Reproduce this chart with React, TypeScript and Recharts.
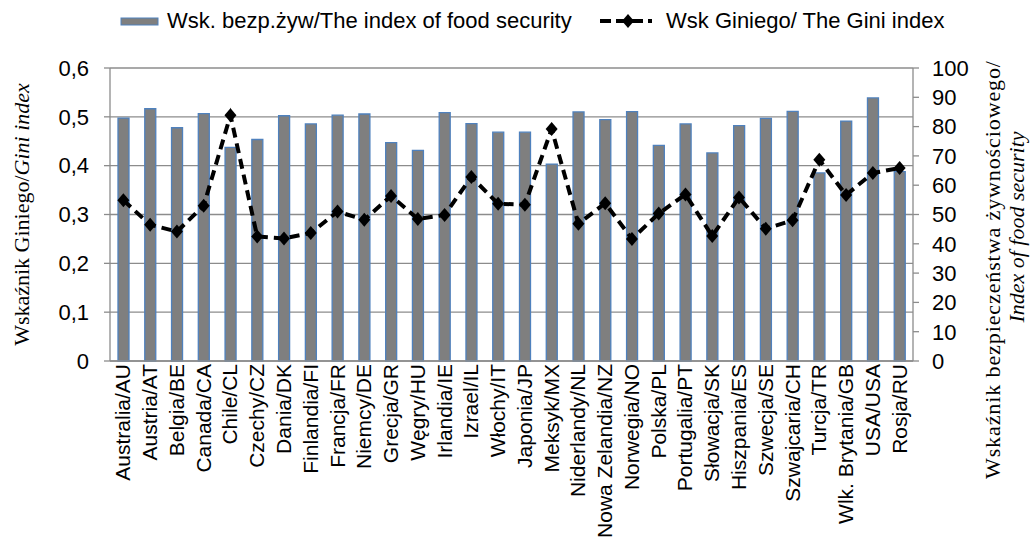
import { Bar, CartesianGrid, ComposedChart, Line, XAxis, YAxis } from 'recharts';

const categories = [
  'Australia/AU', 'Austria/AT', 'Belgia/BE', 'Canada/CA', 'Chile/CL', 'Czechy/CZ',
  'Dania/DK', 'Finlandia/FI', 'Francja/FR', 'Niemcy/DE', 'Grecja/GR', 'Węgry/HU',
  'Irlandia/IE', 'Izrael/IL', 'Włochy/IT', 'Japonia/JP', 'Meksyk/MX', 'Niderlandy/NL',
  'Nowa Zelandia/NZ', 'Norwegia/NO', 'Polska/PL', 'Portugalia/PT', 'Słowacja/SK',
  'Hiszpania/ES', 'Szwecja/SE', 'Szwajcaria/CH', 'Turcja/TR', 'Wlk. Brytania/GB',
  'USA/USA', 'Rosja/RU',
];

// Wsk. bezp.żyw / index of food security (right axis)
const foodSecurity = [
  82.9, 86.1, 79.6, 84.4, 72.9, 75.6, 83.7, 80.9, 83.9, 84.3, 74.5, 71.9, 84.8, 81.0, 78.1,
  78.1, 67.2, 85.0, 82.4, 85.1, 73.6, 80.9, 71.0, 80.3, 82.8, 85.2, 64.2, 81.9, 89.8, 64.6,
];

// Wsk Giniego / Gini index (left axis)
const gini = [
  0.329, 0.279, 0.265, 0.318, 0.503, 0.255, 0.251, 0.262, 0.306, 0.289, 0.338, 0.291, 0.299,
  0.377, 0.322, 0.32, 0.475, 0.281, 0.323, 0.25, 0.302, 0.341, 0.256, 0.335, 0.271, 0.288,
  0.412, 0.34, 0.385, 0.395,
];

const leftTicks = [0, 0.1, 0.2, 0.3, 0.4, 0.5, 0.6];
const rightTicks = [0, 10, 20, 30, 40, 50, 60, 70, 80, 90, 100];

const data = categories.map((name, i) => ({ name, food: foodSecurity[i], gini: gini[i] }));

const SANS = '"Liberation Sans", Arial, sans-serif';
const SERIF = '"Liberation Serif", "Times New Roman", serif';
const GRID = '#8c8c8c';
const BAR_FILL = '#7f7f7f';
const BAR_EDGE = '#4f81bd';

const tickStyle = { fontSize: 22, fill: '#000', fontFamily: SANS };

function XTick({ x, y, payload }: any) {
  return (
    <text
      transform={`translate(${x + 7},${y}) rotate(-90)`}
      textAnchor="end"
      fontSize={21}
      fontFamily={SANS}
      fill="#000"
    >
      {payload.value}
    </text>
  );
}

function Diamond({ cx, cy }: any) {
  if (cx == null || cy == null) return null;
  return (
    <polygon
      points={`${cx},${cy - 7} ${cx + 6},${cy} ${cx},${cy + 7} ${cx - 6},${cy}`}
      fill="#000"
    />
  );
}

function LeftTitle({ viewBox }: any) {
  const cy = viewBox.y + viewBox.height / 2;
  return (
    <text
      transform={`translate(29,${cy}) rotate(-90)`}
      textAnchor="middle"
      fontSize={22}
      fontFamily={SERIF}
      fill="#000"
    >
      <tspan>Wskaźnik Giniego/</tspan>
      <tspan fontStyle="italic">Gini index</tspan>
    </text>
  );
}

function RightTitle({ viewBox }: any) {
  const x0 = viewBox.x;
  return (
    <g fontFamily={SERIF} fontSize={22} fill="#000">
      <text
        transform={`translate(${x0 + 87},270) rotate(-90)`}
        textAnchor="middle"
        textLength={418}
        lengthAdjust="spacing"
      >
        Wskaźnik bezpieczeństwa żywnościowego/
      </text>
      <text
        transform={`translate(${x0 + 111},227) rotate(-90)`}
        textAnchor="middle"
        fontStyle="italic"
      >
        Index of food security
      </text>
    </g>
  );
}

function LegendBar() {
  return (
    <svg
      width={1035}
      height={40}
      style={{ position: 'absolute', left: 0, top: 0 }}
      fontFamily={SANS}
      fontSize={22}
    >
      <rect x={121} y={18} width={37} height={7} fill={BAR_FILL} stroke={BAR_EDGE} strokeWidth={1} />
      <text x={167} y={28}>Wsk. bezp.żyw/The index of food security</text>
      <line x1={600} y1={21} x2={652} y2={21} stroke="#000" strokeWidth={4} strokeDasharray="11 5" />
      <polygon points="628,14 634,21 628,28 622,21" fill="#000" />
      <text x={666} y={28}>Wsk Giniego/ The Gini index</text>
    </svg>
  );
}

export default function App() {
  return (
    <div style={{ position: 'absolute', left: 0, top: 0, width: 1035, height: 545 }}>
      <ComposedChart
        width={1035}
        height={545}
        data={data}
        margin={{ top: 68, right: 0, bottom: 0, left: 0 }}
      >
        <CartesianGrid yAxisId="left" vertical={false} stroke={GRID} strokeWidth={1.3} />
        <XAxis
          dataKey="name"
          interval={0}
          height={184}
          tick={<XTick />}
          tickSize={0}
          tickMargin={3}
          axisLine={{ stroke: GRID, strokeWidth: 1.3 }}
          tickLine={false}
        />
        <YAxis
          yAxisId="left"
          orientation="left"
          width={110}
          domain={[0, 0.6]}
          ticks={leftTicks}
          interval={0}
          tickFormatter={(v: number) => String(v).replace('.', ',')}
          tick={tickStyle}
          tickSize={6}
          tickMargin={15}
          axisLine={{ stroke: GRID, strokeWidth: 1.3 }}
          tickLine={{ stroke: GRID, strokeWidth: 1.3 }}
          label={{ content: <LeftTitle /> }}
        />
        <YAxis
          yAxisId="right"
          orientation="right"
          width={122}
          domain={[0, 100]}
          ticks={rightTicks}
          interval={0}
          tick={tickStyle}
          tickSize={6}
          tickMargin={13}
          axisLine={{ stroke: GRID, strokeWidth: 1.3 }}
          tickLine={{ stroke: GRID, strokeWidth: 1.3 }}
          label={{ content: <RightTitle /> }}
        />
        <Bar
          yAxisId="right"
          dataKey="food"
          barSize={11}
          fill={BAR_FILL}
          stroke={BAR_EDGE}
          strokeWidth={1.3}
          isAnimationActive={false}
        />
        <Line
          yAxisId="left"
          type="linear"
          dataKey="gini"
          stroke="#000"
          strokeWidth={4}
          strokeDasharray="10 6"
          dot={<Diamond />}
          activeDot={false}
          isAnimationActive={false}
        />
      </ComposedChart>
      <LegendBar />
    </div>
  );
}
